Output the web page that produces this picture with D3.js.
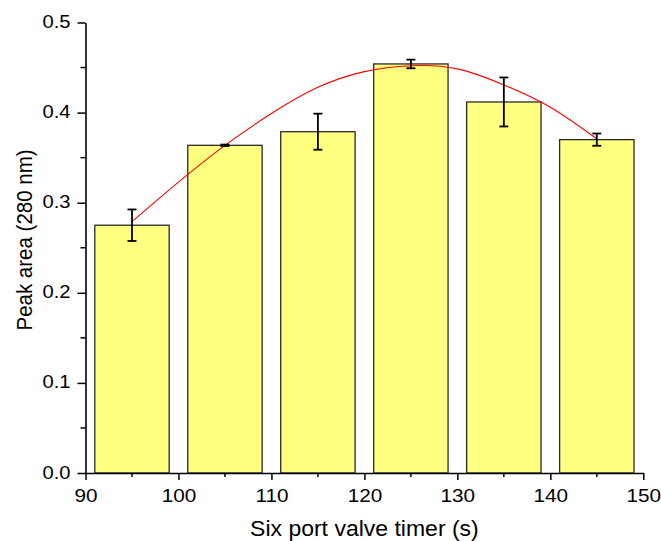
<!DOCTYPE html>
<html>
<head>
<meta charset="utf-8">
<script src="https://cdn.jsdelivr.net/npm/d3@7"></script>
<style>
  html, body { margin: 0; padding: 0; background: #fff; }
  svg { display: block; }
  text { font-family: "Liberation Sans", Arial, sans-serif; fill: #000; }
</style>
</head>
<body>
<svg id="chart" width="661" height="541"></svg>
<script>
// ---- data ----
const timers = [95, 105, 115, 125, 135, 145];
const peakArea = [0.275, 0.3637, 0.3788, 0.454, 0.4118, 0.370];
const peakErr = [0.0175, 0.0008, 0.020, 0.0048, 0.0272, 0.0068];
// fitted curve
const fitX = [95, 100, 105, 110, 115, 120, 125, 130, 135, 140, 145];
const fitY = [0.279, 0.3228, 0.3636, 0.3990, 0.4280, 0.4455, 0.452, 0.4485, 0.4307, 0.406, 0.3710];
const xTicks = [90, 100, 110, 120, 130, 140, 150];
const xMinor = [95, 105, 115, 125, 135, 145];
const yTicks = [0.0, 0.1, 0.2, 0.3, 0.4, 0.5];
const yMinor = [0.05, 0.15, 0.25, 0.35, 0.45];
const xTitle = "Six port valve timer (s)";
const yTitle = "Peak area (280 nm)";

// ---- layout ----
const svg = d3.select("#chart");
const x = d3.scaleLinear().domain([90, 150]).range([85.5, 643.3]);
const y = d3.scaleLinear().domain([0, 0.5]).range([473, 22.5]);
const barHalf = 4; // bar width 8 s
const stretch = 1.12;

// bars
svg.append("g").selectAll("rect").data(timers).join("rect")
  .attr("x", (d) => x(d - barHalf))
  .attr("width", (d) => x(d + barHalf) - x(d - barHalf))
  .attr("y", (d, i) => y(peakArea[i]))
  .attr("height", (d, i) => y(0) - y(peakArea[i]))
  .attr("fill", "#ffff80")
  .attr("stroke", "#2a2a2a")
  .attr("stroke-width", 1.3);

// fit curve
const line = d3.line().x((d) => x(d[0])).y((d) => y(d[1])).curve(d3.curveNatural);
svg.append("path")
  .datum(fitX.map((d, i) => [d, fitY[i]]))
  .attr("d", line)
  .attr("fill", "none")
  .attr("stroke", "#ff0000")
  .attr("stroke-width", 1.1);

// error bars
const eg = svg.append("g").attr("stroke", "#000").attr("stroke-width", 1.8);
timers.forEach((t, i) => {
  const cx = x(t), top = y(peakArea[i] + peakErr[i]), bot = y(peakArea[i] - peakErr[i]);
  eg.append("line").attr("x1", cx).attr("x2", cx).attr("y1", top).attr("y2", bot);
  eg.append("line").attr("x1", cx - 4.5).attr("x2", cx + 4.5).attr("y1", top).attr("y2", top);
  eg.append("line").attr("x1", cx - 4.5).attr("x2", cx + 4.5).attr("y1", bot).attr("y2", bot);
});

// x axis
const xAxis = svg.append("g").attr("transform", `translate(0,${y(0)})`)
  .call(d3.axisBottom(x).tickValues(xTicks).tickFormat(d3.format("d")).tickSizeInner(7).tickSizeOuter(0).tickPadding(10));
xAxis.append("g").selectAll("line").data(xMinor).join("line")
  .attr("x1", (d) => x(d)).attr("x2", (d) => x(d)).attr("y1", 0).attr("y2", 4)
  .attr("stroke", "#000").attr("stroke-width", 1.5);
xAxis.selectAll(".domain").attr("stroke", "#000").attr("stroke-width", 1.6);
xAxis.selectAll(".tick line").attr("stroke", "#000").attr("stroke-width", 1.5);
xAxis.selectAll(".tick text")
  .attr("font-size", 18.5).attr("dy", null).attr("y", 0)
  .attr("transform", `translate(0,29) scale(${stretch},1)`);

// y axis
const yAxis = svg.append("g").attr("transform", `translate(${x(90)},0)`)
  .call(d3.axisLeft(y).tickValues(yTicks).tickFormat(d3.format(".1f")).tickSizeInner(8).tickSizeOuter(0).tickPadding(15));
yAxis.append("g").selectAll("line").data(yMinor).join("line")
  .attr("x1", 0).attr("x2", -5).attr("y1", (d) => y(d)).attr("y2", (d) => y(d))
  .attr("stroke", "#000").attr("stroke-width", 1.5);
yAxis.selectAll(".domain").attr("stroke", "#000").attr("stroke-width", 1.6);
yAxis.selectAll(".tick line").attr("stroke", "#000").attr("stroke-width", 1.5);
yAxis.selectAll(".tick text")
  .attr("font-size", 18).attr("x", 0).attr("dy", null).attr("y", 0)
  .attr("text-anchor", "end")
  .attr("transform", `translate(-15,5) scale(${stretch},1)`);

// titles
svg.append("text")
  .attr("text-anchor", "middle")
  .attr("font-size", 21.5)
  .attr("transform", `translate(${(x(90) + x(150)) / 2},535.5) scale(1.07,1)`)
  .text(xTitle);
svg.append("text")
  .attr("text-anchor", "middle")
  .attr("font-size", 20.5)
  .attr("transform", `translate(32,240) rotate(-90) scale(1,${stretch})`)
  .text(yTitle);
</script>
</body>
</html>
